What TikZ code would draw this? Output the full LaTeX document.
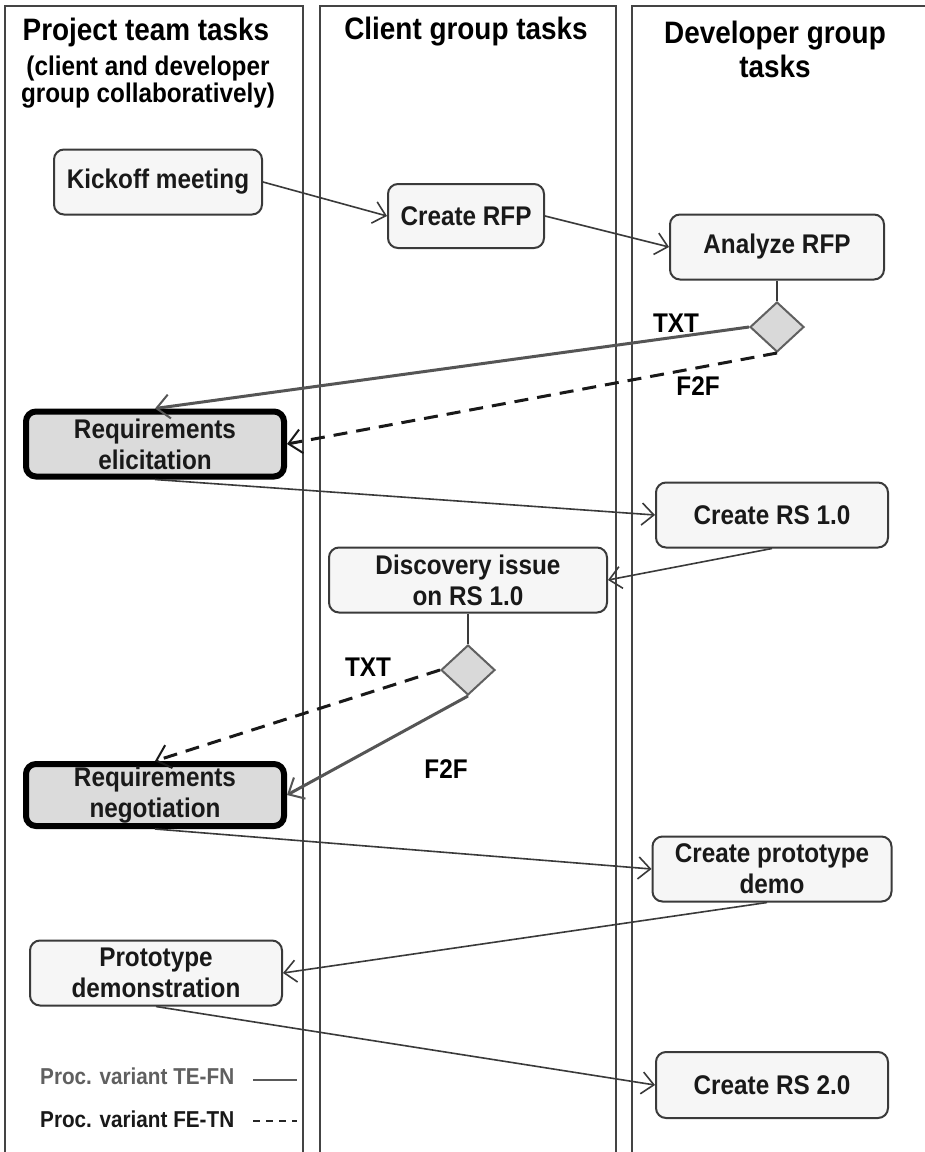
\documentclass[tikz,border=0pt]{standalone}
\usepackage{fontspec}
\setmainfont{Liberation Sans}[FakeStretch=0.9]
\usetikzlibrary{arrows.meta,shapes.geometric}
\definecolor{lanec}{HTML}{444444}
\definecolor{linec}{HTML}{3A3A3A}
\definecolor{txtc}{HTML}{555555}
\tikzset{
  lane/.style={draw=lanec,line width=2.6pt,fill=white},
  taskbox/.style={draw=linec,line width=2pt,rounded corners=10pt,fill=gray!7,
    align=center,font=\fontsize{27}{31}\selectfont\bfseries,inner sep=0pt,text=black!90},
  keybox/.style={taskbox,draw=black,line width=6pt,fill=gray!28},
  decide/.style={diamond,draw=gray!75!black,line width=2pt,fill=gray!30,
    minimum width=54pt,minimum height=50pt,inner sep=0pt},
  hdr/.style={font=\fontsize{31}{34}\selectfont\bfseries,align=center,inner sep=0pt},
  subhdr/.style={font=\fontsize{27}{27}\selectfont\bfseries,align=center,inner sep=0pt},
  lbl/.style={font=\fontsize{27}{30}\selectfont\bfseries,inner sep=0pt},
  legtxt/.style={font=\fontsize{23}{24}\selectfont\bfseries,inner sep=0pt,anchor=west},
  flow/.style={draw=linec,line width=1.6pt,-{Straight Barb[length=12pt,width=22pt]}},
  plain/.style={draw=linec,line width=1.6pt},
  solidv/.style={draw=txtc,line width=3pt,-{Straight Barb[length=13pt,width=24pt,line width=2pt]}},
  dashv/.style={draw=black!90,line width=3pt,dash pattern=on 14pt off 9pt,-{Straight Barb[length=13pt,width=24pt,line width=2pt]}}
}
\begin{document}
\begin{tikzpicture}[x=1pt,y=-1pt]
\useasboundingbox (0,0) rectangle (925,1152);
\fill[white] (0,0) rectangle (925,1152);
% lanes
\draw[lane] (5,6) rectangle (303,1170);
\draw[lane] (320,6) rectangle (616,1170);
\draw[lane] (632,6) rectangle (940,1170);
% headers
\node[hdr] (h1) at (146,32) {Project team tasks};
\node[subhdr] (h1b) at (148,82) {(client and developer\\group collaboratively)};
\node[hdr] (h2) at (466,32) {Client group tasks};
\node[hdr] (h3) at (775,49) {Developer group\\tasks};
% tasks
\node[taskbox,minimum width=208pt,minimum height=65pt] (kick) at (158,182) {Kickoff meeting};
\node[taskbox,minimum width=156pt,minimum height=64pt] (rfp) at (466,216) {Create RFP};
\node[taskbox,minimum width=214pt,minimum height=65pt] (ana) at (777,247) {Analyze RFP};
\node[decide] (d1) at (777,327) {};
\node[keybox,minimum width=258pt,minimum height=65pt] (reqel) at (155,444) {Requirements\\elicitation};
\node[taskbox,minimum width=232pt,minimum height=65pt] (rs1) at (772,515) {Create RS 1.0};
\node[taskbox,minimum width=278pt,minimum height=65pt] (disc) at (468,580) {Discovery issue\\on RS 1.0};
\node[decide] (d2) at (468,670) {};
\node[keybox,minimum width=258pt,minimum height=62pt] (reqneg) at (155,795) {Requirements\\negotiation};
\node[taskbox,minimum width=239pt,minimum height=65pt] (proto) at (772,869) {Create prototype\\demo};
\node[taskbox,minimum width=252pt,minimum height=65pt] (pdemo) at (156,973) {Prototype\\demonstration};
\node[taskbox,minimum width=232pt,minimum height=66pt] (rs2) at (772,1085) {Create RS 2.0};
% labels
\node[lbl] (t1) at (676,323) {TXT};
\node[lbl] (f1) at (698,386) {F2F};
\node[lbl] (t2) at (368,667) {TXT};
\node[lbl] (f2) at (446,769) {F2F};
% connectors
\draw[flow] (kick.east) -- (rfp.west);
\draw[flow] (rfp.east) -- (ana.west);
\draw[plain] (ana.south) -- (d1.north);
\draw[solidv] (d1.west) -- (reqel.north);
\draw[dashv] (d1.south) -- (reqel.east);
\draw[flow] (reqel.south) -- (rs1.west);
\draw[flow] (rs1.south) -- (disc.east);
\draw[plain] (disc.south) -- (d2.north);
\draw[dashv] (d2.west) -- (reqneg.north);
\draw[solidv] (d2.south) -- (reqneg.east);
\draw[flow] (reqneg.south) -- (proto.west);
\draw[flow] ([xshift=-5pt]proto.south) -- (pdemo.east);
\draw[flow] (pdemo.south) -- (rs2.west);
% legend
\node[legtxt,text=gray!75!black] (lg1) at (40,1076) {Proc. variant TE-FN};
\node[legtxt,text=black!90] (lg2) at (40,1119) {Proc. variant FE-TN};
\coordinate (a1) at (253,1080);
\coordinate (b1) at (297,1080);
\coordinate (a2) at (253,1121);
\coordinate (b2) at (297,1121);
\draw[draw=gray!70!black,line width=1.8pt] (a1) -- (b1);
\draw[draw=black!85,line width=2pt,dash pattern=on 7pt off 6pt] (a2) -- (b2);
\end{tikzpicture}
\end{document}
